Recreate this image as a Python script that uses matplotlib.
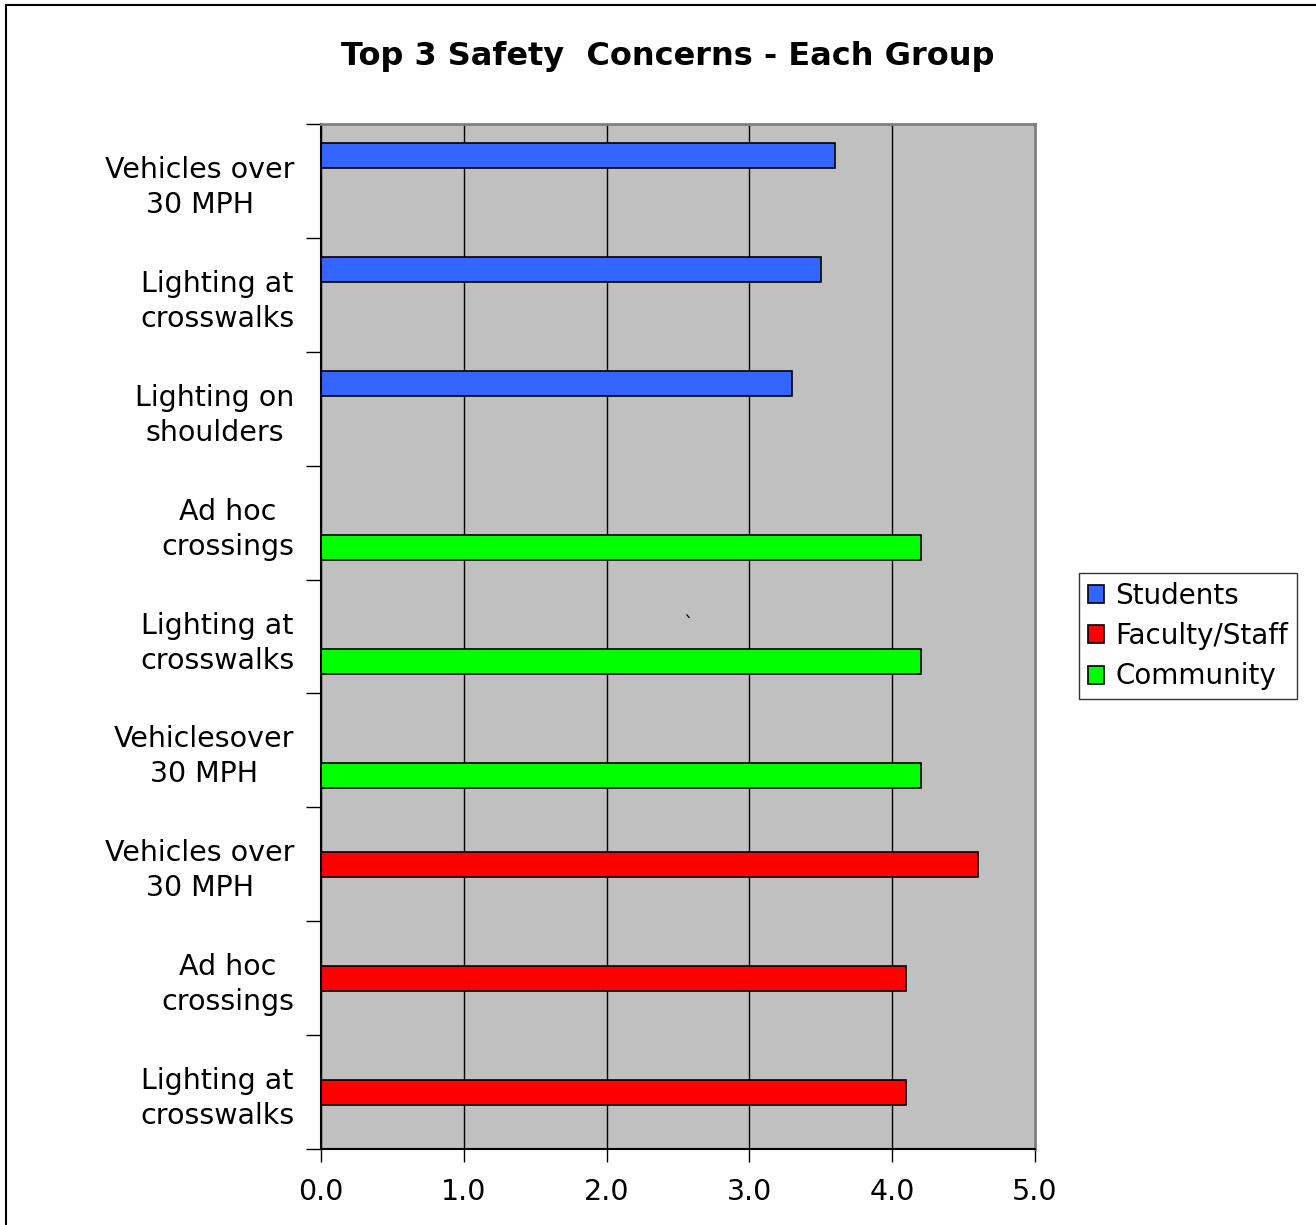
import numpy as np
import matplotlib
matplotlib.use("Agg")
import matplotlib.pyplot as plt
from matplotlib.patches import Rectangle

plt.rcParams["font.family"] = ["DejaVu Sans"]

categories = [
    "Vehicles over\n30 MPH",
    "Lighting at\ncrosswalks",
    "Lighting on\nshoulders",
    "Ad hoc\ncrossings",
    "Lighting at\ncrosswalks",
    "Vehiclesover\n30 MPH",
    "Vehicles over\n30 MPH",
    "Ad hoc\ncrossings",
    "Lighting at\ncrosswalks",
]
students = [3.6, 3.5, 3.3, None, None, None, None, None, None]
faculty = [None, None, None, None, None, None, 4.6, 4.1, 4.1]
community = [None, None, None, 4.2, 4.2, 4.2, None, None, None]
series_names = ["Students", "Faculty/Staff", "Community"]
colors = ["#3366FF", "#FF0000", "#00FF00"]
xticks = [0, 1, 2, 3, 4, 5]

fig = plt.figure(figsize=(13.16, 12.25), dpi=100)
# outer chart frame
fig.patches.append(Rectangle((6 / 1316, -0.01), 1.02, 1 - 5 / 1225 + 0.01,
                             transform=fig.transFigure, fill=False,
                             edgecolor="black", linewidth=1.5))

ax = fig.add_axes([321 / 1316, 1 - 1149 / 1225, 714 / 1316, 1025 / 1225])
ax.set_facecolor("#C0C0C0")

y = np.arange(len(categories))
h = 0.22
offsets = [-h, 0, h]
for vals, off, c, name in zip([students, faculty, community], offsets, colors, series_names):
    v = np.array([np.nan if x is None else x for x in vals], dtype=float)
    ax.barh(y + off, v, height=h, color=c, edgecolor="black", linewidth=1.2, label=name)

ax.set_xlim(0, 5)
ax.set_ylim(len(categories) - 0.5, -0.5)
ax.set_xticks(xticks)
ax.set_xticklabels([f"{t:.1f}" for t in xticks], fontsize=20.5)
ax.set_yticks(y)
ax.set_yticklabels(categories, fontsize=20.5, ha="right", multialignment="center",
                   linespacing=1.32)
ax.tick_params(axis="y", length=0, pad=19)
# minor ticks at slot boundaries on the y axis
ax.set_yticks(np.arange(-0.5, len(categories)), minor=True)
ax.tick_params(axis="y", which="minor", length=11, width=1, direction="out")
ax.tick_params(axis="x", length=9, width=1, direction="out", pad=12)
ax.grid(axis="x", color="black", linewidth=1)
ax.set_axisbelow(True)
for s in ["top", "right"]:
    ax.spines[s].set_color("#808080")
    ax.spines[s].set_linewidth(2)
ax.spines["left"].set_linewidth(1.5)
ax.spines["bottom"].set_linewidth(1.5)

fig.text(668 / 1316, 1 - 56 / 1225, "Top 3 Safety  Concerns - Each Group",
         ha="center", va="center", fontsize=23, fontweight="bold")
fig.text(688 / 1316, 1 - 625 / 1225, "`", ha="center", va="center", fontsize=14)

leg = fig.legend(loc="center", bbox_to_anchor=(1188 / 1316, 1 - 636 / 1225),
                 fontsize=20, frameon=True, fancybox=False, edgecolor="black",
                 handlelength=0.6, handleheight=0.6, handletextpad=0.4,
                 labelspacing=0.45, borderpad=0.3, borderaxespad=0)
leg.get_frame().set_linewidth(1)

fig.savefig("out.png", dpi=100)
